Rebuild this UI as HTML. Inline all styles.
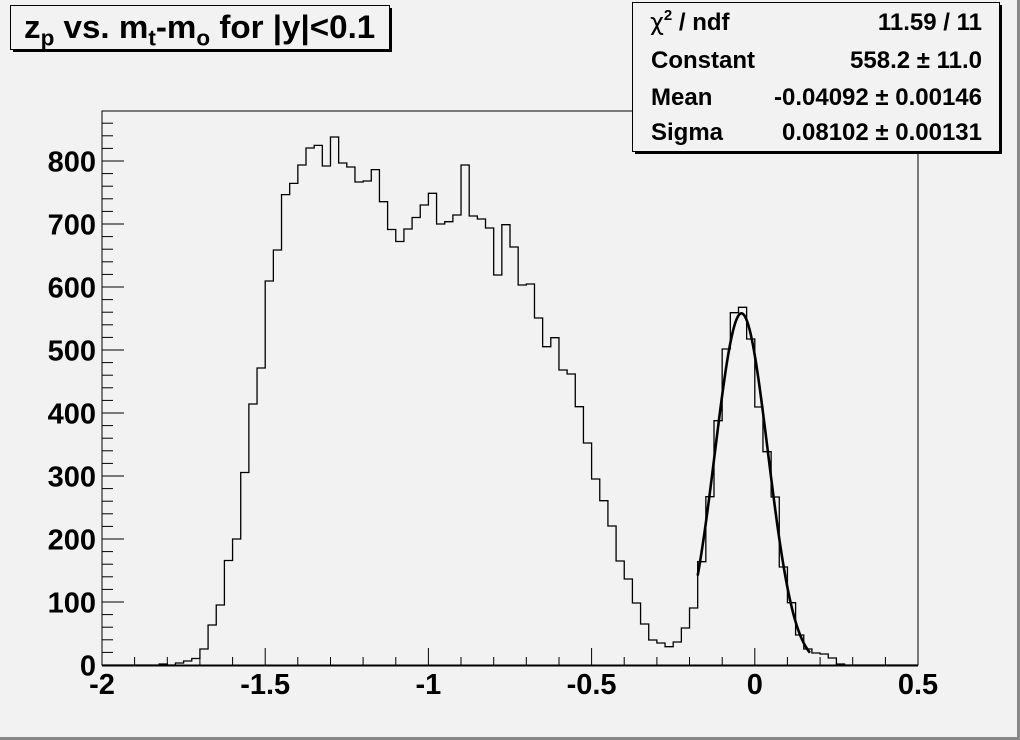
<!DOCTYPE html>
<html><head><meta charset="utf-8"><style>
html,body{margin:0;padding:0;background:#f2f2f2;}
svg{display:block;font-family:"Liberation Sans",sans-serif;font-weight:bold;}
</style></head><body>
<svg id="s" width="1020" height="740" viewBox="0 0 1020 740" xmlns="http://www.w3.org/2000/svg">
<rect x="0" y="0" width="1020" height="740" fill="#f2f2f2"/>
<line x1="0" y1="738.5" x2="1020" y2="738.5" stroke="#888" stroke-width="3"/>
<line x1="1018.5" y1="0" x2="1018.5" y2="740" stroke="#888" stroke-width="3"/>
<rect x="102" y="111" width="816" height="554" fill="none" stroke="#000" stroke-width="1"/>
<line x1="102" y1="665.5" x2="918" y2="665.5" stroke="#000" stroke-width="2"/>
<g id="ticks" stroke="#000" stroke-width="1"></g>
<g id="labels" font-size="29" fill="#000"></g>
<path id="hist" fill="none" stroke="#000" stroke-width="1.3"/>
<path id="gaus" fill="none" stroke="#000" stroke-width="2.6"/>
<!-- title -->
<rect x="13" y="8" width="379" height="44" fill="#000"/>
<rect x="10.5" y="5.5" width="379" height="44" fill="#f2f2f2" stroke="#000" stroke-width="1"/>
<g transform="translate(24,38) scale(1.07,1.05)">
<text x="0" y="0" font-size="31">z<tspan font-size="21" dy="7">p</tspan><tspan dy="-7"> vs. m</tspan><tspan font-size="21" dy="7">t</tspan><tspan dy="-7">-m</tspan><tspan font-size="21" dy="7">o</tspan><tspan dy="-7"> for |y|&lt;0.1</tspan></text>
</g>
<!-- stats -->
<rect x="635" y="5" width="367" height="149" fill="#000"/>
<rect x="632.5" y="2.5" width="367" height="149" fill="#f2f2f2" stroke="#000" stroke-width="1"/>
<g font-size="24">
<text x="650" y="30"><tspan font-family="DejaVu Sans" font-weight="normal">χ</tspan><tspan font-size="15" dy="-10">2</tspan><tspan dy="10"> / ndf</tspan></text>
<text x="651" y="68">Constant</text>
<text x="651" y="105">Mean</text>
<text x="651" y="140">Sigma</text>
<g text-anchor="end">
<text x="982" y="30">11.59 / 11</text>
<text x="982" y="68">558.2 ± 11.0</text>
<text x="982" y="105">-0.04092 ± 0.00146</text>
<text x="982" y="140">0.08102 ± 0.00131</text>
</g></g>
</svg>
<script>
var Y=[665,665,665,665,665,665,665,664,665,663,661,658.5,649,625,605,560.5,539,472.5,404,368,281,250,194.6,183.4,165,148,145.4,166,137,163,167,182,181,169.6,201.7,229.5,241.5,229,217.5,205,193.3,224,221.7,215,165,216,219,228,275,224.7,247,285,284,318,346.7,337.7,370,374,406.7,443,479,500.7,526,561,579,603,624,640,643,646.7,642,628,608,561.7,496.7,420.7,349,312.7,307.3,339,407,451.7,497,567,602.7,635,649,653,654,658,664,665,665,665,665,665,665,665,665,665];
var d="M102,665";
for(var k=0;k<100;k++){var x0=102+8.16*k;d+=" L"+x0.toFixed(2)+","+Y[k]+" L"+(x0+8.16).toFixed(2)+","+Y[k];}
d+=" L918,665";
document.getElementById('hist').setAttribute('d',d);
var g="";
for(var x=-0.175;x<=0.1701;x+=0.002){var c=558.2*Math.exp(-0.5*Math.pow((x+0.04092)/0.08102,2));
var px=102+(x+2)*326.4,py=665-0.63*c;g+=(g?" L":"M")+px.toFixed(2)+","+py.toFixed(2);}
document.getElementById('gaus').setAttribute('d',g);
var t="",l="";
for(var v=0;v<=880;v+=20){var y=665-0.63*v;if(y<111)break;var len=(v%100==0)?22:11;
t+='<line x1="102" y1="'+y.toFixed(1)+'" x2="'+(102+len)+'" y2="'+y.toFixed(1)+'"/>';
if(v%100==0)l+='<text x="96" y="'+(y+10.5).toFixed(1)+'" text-anchor="end">'+v+'</text>';}
for(var i=0;i<=25;i++){var xv=-2+0.1*i;var x=102+326.4*(xv+2);var major=(i%5==0);
t+='<line x1="'+x.toFixed(1)+'" y1="665" x2="'+x.toFixed(1)+'" y2="'+(major?648:657)+'"/>';
if(major){var s=(Math.round(xv*10)/10).toString();l+='<text x="'+x.toFixed(1)+'" y="694" text-anchor="middle">'+s+'</text>';}}
document.getElementById('ticks').innerHTML=t;
document.getElementById('labels').innerHTML=l;
</script>
</body></html>
